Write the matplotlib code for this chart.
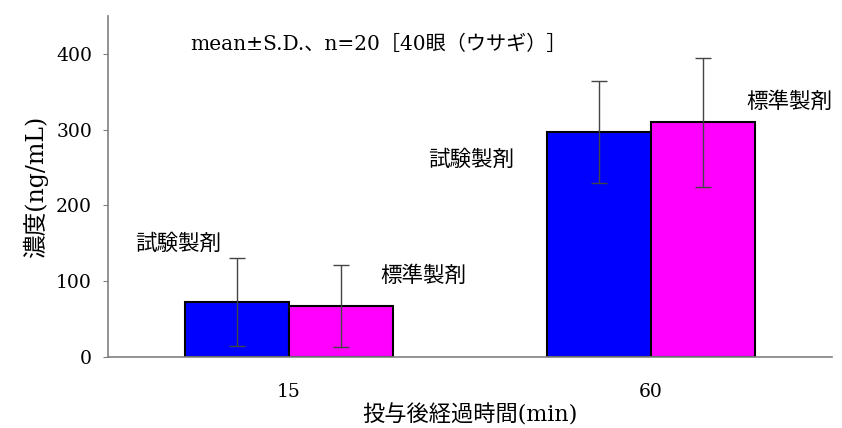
import matplotlib
matplotlib.use("Agg")
import matplotlib.pyplot as plt
import numpy as np

categories = ["15", "60"]
series_names = ["試験製剤", "標準製剤"]
test_mean = [73, 297]
test_sd = [58, 67]
std_mean = [67, 310]
std_sd = [54, 85]
yticks = [0, 100, 200, 300, 400]
title_text = "mean±S.D.、n=20［40眼（ウサギ）］"
ylabel_text = "濃度(ng/mL)"
xlabel_text = "投与後経過時間(min)"

FAM = ["DejaVu Serif", "Noto Sans CJK JP"]
CJK = ["Noto Sans CJK JP", "DejaVu Sans"]

fig = plt.figure(figsize=(8.42, 4.28), dpi=100)
ax = fig.add_axes([108/842, 1 - 357/428, (832-108)/842, (357-16)/428])

x = np.arange(len(categories))
w = 0.287
ecol = "#444444"
ax.bar(x - w/2, test_mean, w, color="#0000ff", edgecolor="black", linewidth=1.5, zorder=2)
ax.bar(x + w/2, std_mean, w, color="#ff00ff", edgecolor="black", linewidth=1.5, zorder=2)
ax.errorbar(x - w/2, test_mean, yerr=test_sd, fmt="none", ecolor=ecol, elinewidth=1.0,
            capsize=5.5, capthick=1.0, zorder=3)
ax.errorbar(x + w/2, std_mean, yerr=std_sd, fmt="none", ecolor=ecol, elinewidth=1.0,
            capsize=5.5, capthick=1.0, zorder=3)

ax.set_xlim(-0.5, 1.5)
ax.set_ylim(0, 450)
ax.set_yticks(yticks)
ax.set_yticklabels([str(v) for v in yticks], family=FAM, fontsize=13.5)
ax.set_xticks(x)
ax.set_xticklabels(categories, family=FAM, fontsize=13.5)
ax.tick_params(axis="x", length=0, pad=19)
ax.tick_params(axis="y", length=3.5, color="#808080", pad=8, direction="out")
for s in ["top", "right"]:
    ax.spines[s].set_visible(False)
for s in ["left", "bottom"]:
    ax.spines[s].set_color("#808080")
    ax.spines[s].set_linewidth(1.2)

ax.set_ylabel(ylabel_text, family=FAM, fontsize=17, labelpad=6)
ax.set_xlabel(xlabel_text, family=FAM, fontsize=16, labelpad=2)

ax.text(-0.273, 413, title_text, family=FAM, fontsize=14.5, va="center", ha="left")
ax.text(-0.425, 149, series_names[0], family=CJK, fontsize=15.5, va="center", ha="left")
ax.text(0.251, 107, series_names[1], family=CJK, fontsize=15.5, va="center", ha="left")
ax.text(0.384, 260, series_names[0], family=CJK, fontsize=15.5, va="center", ha="left")
ax.text(1.262, 337, series_names[1], family=CJK, fontsize=15.5, va="center", ha="left", clip_on=False)

fig.savefig("out.png", dpi=100)
